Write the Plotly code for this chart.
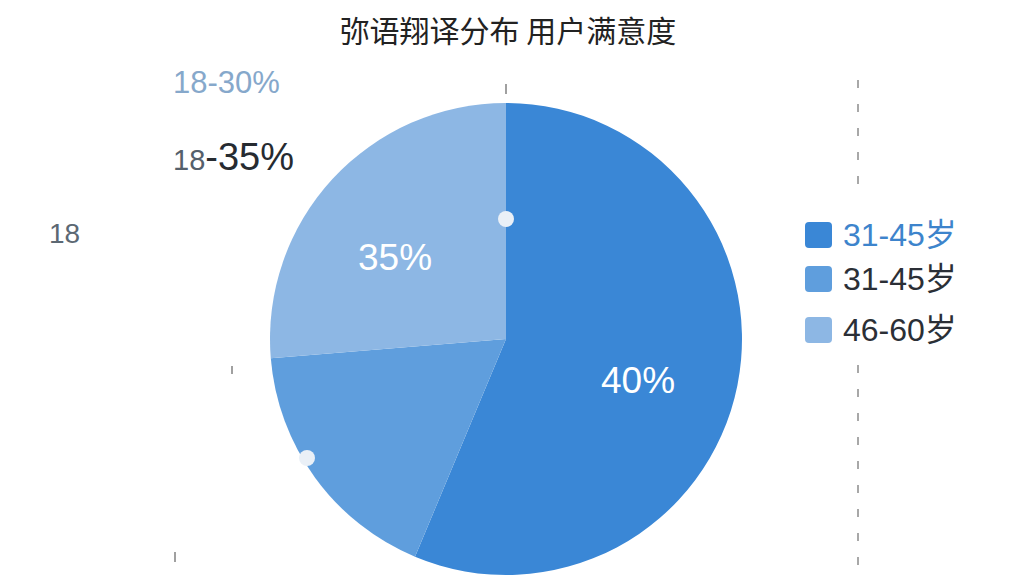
import math
import plotly.graph_objects as go

# slice data (clockwise from 12 o'clock)
slice_names = ["31-45岁 (a)", "31-45岁 (b)", "46-60岁"]
slice_values = [56.3, 17.4, 26.3]
slice_text = ["40%", "", "35%"]
slice_colors = ["#3a87d6", "#5f9edd", "#8db7e4"]

# legend entries
legend_labels = ["31-45岁", "31-45岁", "46-60岁"]
legend_text_colors = ["#3d84cc", "#2b2f36", "#2b2f36"]
legend_y = [235, 279, 330]

title_text = "弥语翔译分布 用户满意度"
FONT = "Liberation Sans, Noto Sans CJK SC, sans-serif"

W, H = 1024, 576
OFF = 8  # page body margin in the browser
cx, cy, r = 506, 339, 236


def px(x):
    return (x - OFF) / W


def py(y):
    return (H - (y - OFF)) / H


def rounded_square(x0, y0, x1, y1, k=4):
    # SVG path in paper coords for a small rounded square (pixel inputs)
    pts = [
        f"M {px(x0 + k)} {py(y0)}", f"L {px(x1 - k)} {py(y0)}",
        f"Q {px(x1)} {py(y0)} {px(x1)} {py(y0 + k)}", f"L {px(x1)} {py(y1 - k)}",
        f"Q {px(x1)} {py(y1)} {px(x1 - k)} {py(y1)}", f"L {px(x0 + k)} {py(y1)}",
        f"Q {px(x0)} {py(y1)} {px(x0)} {py(y1 - k)}", f"L {px(x0)} {py(y0 + k)}",
        f"Q {px(x0)} {py(y0)} {px(x0 + k)} {py(y0)}", "Z",
    ]
    return " ".join(pts)


fig = go.Figure()
fig.add_trace(go.Pie(
    labels=slice_names,
    values=slice_values,
    textinfo="none",
    marker=dict(colors=slice_colors, line=dict(width=0)),
    sort=False,
    direction="clockwise",
    rotation=0,
    showlegend=False,
    hoverinfo="label+value",
    domain=dict(x=[px(cx - r), px(cx + r)], y=[py(cy + r), py(cy - r)]),
))

shapes = []
annotations = []

# slice labels at 0.6 r along each slice's mid angle
total = sum(slice_values)
acc = 0
for v, t in zip(slice_values, slice_text):
    mid = (acc + v / 2) / total * 2 * math.pi
    acc += v
    if not t:
        continue
    annotations.append(dict(x=px(cx + 0.6 * r * math.sin(mid) - 7),
                            y=py(cy - 0.6 * r * math.cos(mid) + 14),
                            xref="paper", yref="paper", text=t, showarrow=False,
                            font=dict(size=37, color="white", family=FONT)))

# manual legend
for lab, tc, col, y in zip(legend_labels, legend_text_colors, slice_colors, legend_y):
    shapes.append(dict(type="path", xref="paper", yref="paper",
                       path=rounded_square(805, y - 13, 832, y + 13),
                       fillcolor=col, line=dict(width=0)))
    annotations.append(dict(x=px(841), y=py(y), xref="paper", yref="paper",
                            text=lab, showarrow=False, xanchor="left", yanchor="middle",
                            font=dict(size=32, color=tc, family=FONT)))

# decorative dashed guide on the right and small ticks
for y0, y1 in [(80, 195), (365, 576)]:
    shapes.append(dict(type="line", xref="paper", yref="paper",
                       x0=px(858), x1=px(858), y0=py(y0), y1=py(y1),
                       line=dict(color="#a8a8a8", width=2, dash="8px,16px")))
for x, y0, y1 in [(506, 84, 94), (232, 366, 374), (175, 552, 562)]:
    shapes.append(dict(type="line", xref="paper", yref="paper",
                       x0=px(x), x1=px(x), y0=py(y0), y1=py(y1),
                       line=dict(color="#a0a0a0", width=2)))

# white dots on the pie
for x, y in [(506, 219), (307, 458)]:
    shapes.append(dict(type="circle", xref="paper", yref="paper",
                       x0=px(x - 8), x1=px(x + 8), y0=py(y + 8), y1=py(y - 8),
                       fillcolor="#eaf0f7", line=dict(width=0)))

# stray labels on the left
left = [
    dict(x=px(171), y=py(82), text="18-30%", font=dict(size=31, color="#86a8cb", family=FONT)),
    dict(x=px(171), y=py(157),
         text="<span style='font-size:29px;color:#55606b'>18</span><span style='font-size:38px;color:#262b31'>-35%</span>",
         font=dict(size=38, color="#262b31", family=FONT)),
    dict(x=px(47), y=py(233), text="18", font=dict(size=28, color="#5c6873", family=FONT)),
]
for a in left:
    a.update(xref="paper", yref="paper", showarrow=False, xanchor="left", yanchor="middle")
annotations += left

fig.update_layout(
    width=W, height=H,
    margin=dict(l=0, r=0, t=0, b=0),
    paper_bgcolor="white",
    plot_bgcolor="white",
    title=dict(text=title_text, x=px(508), xanchor="center", y=py(31), yanchor="middle",
               font=dict(size=30, color="#222222", family="Noto Sans CJK SC, sans-serif")),
    shapes=shapes,
    annotations=annotations,
)

fig.write_html("out.html")
